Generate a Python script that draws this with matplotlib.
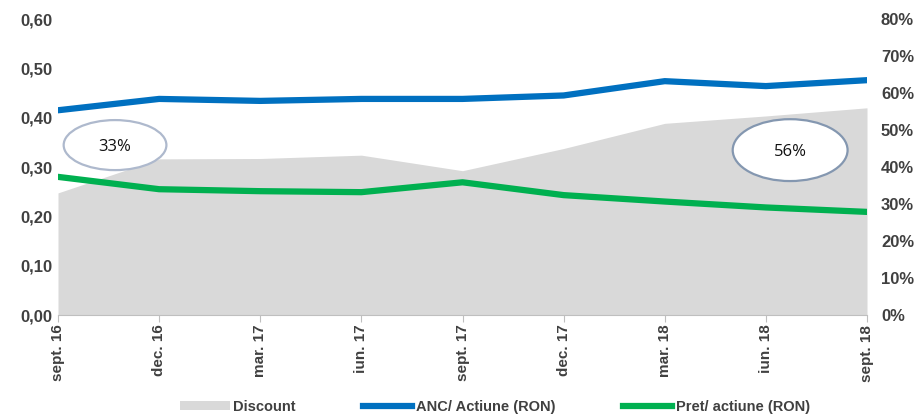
import matplotlib
matplotlib.use("Agg")
import matplotlib.pyplot as plt
from matplotlib.patches import Ellipse, Patch
from matplotlib.lines import Line2D
from matplotlib.ticker import FuncFormatter

categories = ["sept. 16", "dec. 16", "mar. 17", "iun. 17", "sept. 17",
              "dec. 17", "mar. 18", "iun. 18", "sept. 18"]
anc = [0.415, 0.438, 0.434, 0.438, 0.438, 0.445, 0.474, 0.464, 0.476]
pret = [0.280, 0.255, 0.251, 0.249, 0.269, 0.243, 0.230, 0.218, 0.209]
discount = [0.33, 0.422, 0.423, 0.432, 0.39, 0.45, 0.518, 0.538, 0.56]
left_ticks = [0.0, 0.1, 0.2, 0.3, 0.4, 0.5, 0.6]
right_ticks = [0.0, 0.1, 0.2, 0.3, 0.4, 0.5, 0.6, 0.7, 0.8]
bubbles = [("33%", 0), ("56%", 8)]

fam = ["Liberation Sans Narrow", "Liberation Sans", "DejaVu Sans"]
plt.rcParams["font.family"] = fam
label_color = "#404040"

fig = plt.figure(figsize=(9.15, 4.16), dpi=100)
ax = fig.add_axes([58/915, 1-315/416, 809/915, 296/416])
ax2 = ax.twinx()

x = list(range(len(categories)))
ax2.fill_between(x, 0, discount, color="#D9D9D9", linewidth=0)
ax.plot(x, anc, color="#0070C0", linewidth=4.5, solid_capstyle="round", solid_joinstyle="round")
ax.plot(x, pret, color="#00B050", linewidth=4.5, solid_capstyle="round", solid_joinstyle="round")

ax.set_zorder(ax2.get_zorder() + 1)
ax.patch.set_visible(False)

ax.set_xlim(0, len(categories) - 1)
ax.set_ylim(0, 0.6)
ax2.set_ylim(0, 0.8)
ax.set_yticks(left_ticks)
ax2.set_yticks(right_ticks)
ax.yaxis.set_major_formatter(FuncFormatter(lambda v, p: f"{v:.2f}".replace(".", ",")))
ax2.yaxis.set_major_formatter(FuncFormatter(lambda v, p: f"{v*100:.0f}%"))
ax.set_xticks(x)
ax.set_xticklabels(categories, rotation=90, fontsize=11, fontweight="bold", color=label_color)
for lab in ax.get_yticklabels():
    lab.set_fontsize(12); lab.set_fontweight("bold"); lab.set_color(label_color)
for lab in ax2.get_yticklabels():
    lab.set_fontsize(12); lab.set_fontweight("bold"); lab.set_color(label_color)
ax.tick_params(axis="y", length=0, pad=4)
ax2.tick_params(axis="y", length=0, pad=10)
ax.tick_params(axis="x", length=5, color="#BFBFBF", pad=2)

for a in (ax, ax2):
    for s in ("top", "left", "right", "bottom"):
        a.spines[s].set_visible(False)
ax.spines["bottom"].set_visible(True)
ax.spines["bottom"].set_color("#BFBFBF")

# ellipse call-outs
ell_specs = [((0.0705, 0.574), 0.127, 0.169, "#AEB9CD"),
             ((0.905, 0.557), 0.142, 0.209, "#8497B0")]
for (txt, idx), (c, w, h, ec) in zip(bubbles, ell_specs):
    e = Ellipse(c, w, h, transform=ax.transAxes, facecolor="white",
                edgecolor=ec, linewidth=1.6, zorder=5)
    ax.add_patch(e)
    ax.text(c[0], c[1] - 0.005, txt, transform=ax.transAxes, ha="center", va="center",
            fontsize=12, family=["Open Sans", "DejaVu Sans"], color="#111111", zorder=6)

handles = [Patch(facecolor="#D9D9D9", edgecolor="none"),
           Line2D([0], [0], color="#0070C0", linewidth=4.5),
           Line2D([0], [0], color="#00B050", linewidth=4.5)]
labels = ["Discount", "ANC/ Actiune (RON)", "Pret/ actiune (RON)"]
leg = fig.legend(handles, labels, loc="center", ncol=3, frameon=False,
                 handlelength=3.4, handleheight=0.6, handletextpad=0.25,
                 columnspacing=4.6, prop={"size": 10.5, "weight": "bold", "family": fam})
leg.set_bbox_to_anchor((495/915, 1 - 407/416), transform=fig.transFigure)
for t in leg.get_texts():
    t.set_color(label_color)

fig.savefig("out.png", dpi=100)
